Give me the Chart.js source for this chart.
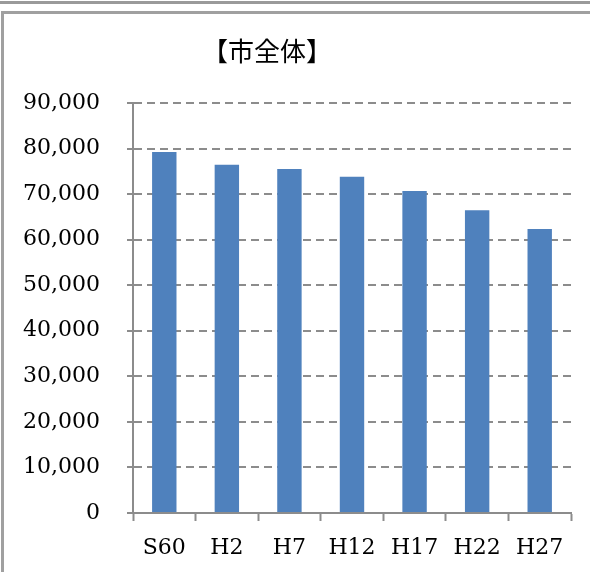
<!DOCTYPE html>
<html>
<head>
<meta charset="utf-8">
<script src="https://cdn.jsdelivr.net/npm/chart.js@4/dist/chart.umd.min.js"></script>
<style>
  html, body { margin: 0; padding: 0; background: #fff; width: 590px; height: 572px; overflow: hidden; }
  #topline { position: absolute; left: 0; top: 1px; width: 590px; height: 3px; background: #9a9a9a; }
  #frame { position: absolute; left: 1px; top: 11px; width: 589px; height: 561px;
           border-left: 3px solid #a0a0a0; border-top: 3px solid #a0a0a0; background: #fff; }
  #wrap { position: absolute; left: 5px; top: 14px; width: 585px; height: 558px; }
</style>
</head>
<body>
<div id="topline"></div>
<div id="frame"></div>
<div id="wrap"><canvas id="c" width="585" height="558"></canvas></div>
<script>
const chartTitle = '【市全体】';
const categories = ['S60', 'H2', 'H7', 'H12', 'H17', 'H22', 'H27'];
const population = [79270, 76450, 75500, 73800, 70660, 66450, 62360];
const yMin = 0, yMax = 90000, yStep = 10000;

const serif = '"DejaVu Serif", "Liberation Serif", serif';
const axisGray = '#8c8c8c';

const titlePlugin = {
  id: 'offsetTitle',
  afterDraw(chart) {
    const ctx = chart.ctx;
    ctx.save();
    ctx.font = '26px "Noto Sans CJK JP", sans-serif';
    ctx.fillStyle = '#000';
    ctx.textAlign = 'center';
    ctx.textBaseline = 'middle';
    ctx.fillText(chartTitle, chart.width * 0.448, 37);
    ctx.restore();
  }
};

new Chart(document.getElementById('c'), {
  type: 'bar',
  data: {
    labels: categories,
    datasets: [{
      data: population,
      backgroundColor: '#4f81bd',
      borderWidth: 0,
      barPercentage: 0.39,
      categoryPercentage: 1.0
    }]
  },
  options: {
    responsive: false,
    animation: false,
    devicePixelRatio: 1,
    layout: { padding: { left: 0, right: 19, top: 89, bottom: 0 } },
    plugins: { legend: { display: false }, tooltip: { enabled: false }, title: { display: false } },
    scales: {
      x: {
        afterFit(scale) { scale.height = 59; },
        grid: {
          display: true, drawOnChartArea: false, drawTicks: true,
          tickLength: 8, tickColor: axisGray, tickWidth: 2, offset: true
        },
        border: { display: true, color: axisGray, width: 2 },
        ticks: { color: '#000', font: { family: serif, size: 22 }, padding: 14, maxRotation: 0 }
      },
      y: {
        min: yMin, max: yMax,
        afterFit(scale) { scale.width = 128; },
        grid: {
          color: (c) => (c.tick && c.tick.value === 0) ? 'rgba(0,0,0,0)' : axisGray,
          lineWidth: 2,
          tickLength: 6, tickColor: axisGray, tickWidth: 2, tickBorderDash: []
        },
        border: { display: true, color: axisGray, width: 2, dash: [8, 5] },
        ticks: {
          stepSize: yStep, color: '#000', padding: 27,
          font: { family: serif, size: 22 },
          callback: (v) => v.toLocaleString('en-US')
        }
      }
    }
  },
  plugins: [titlePlugin]
});
</script>
</body>
</html>
